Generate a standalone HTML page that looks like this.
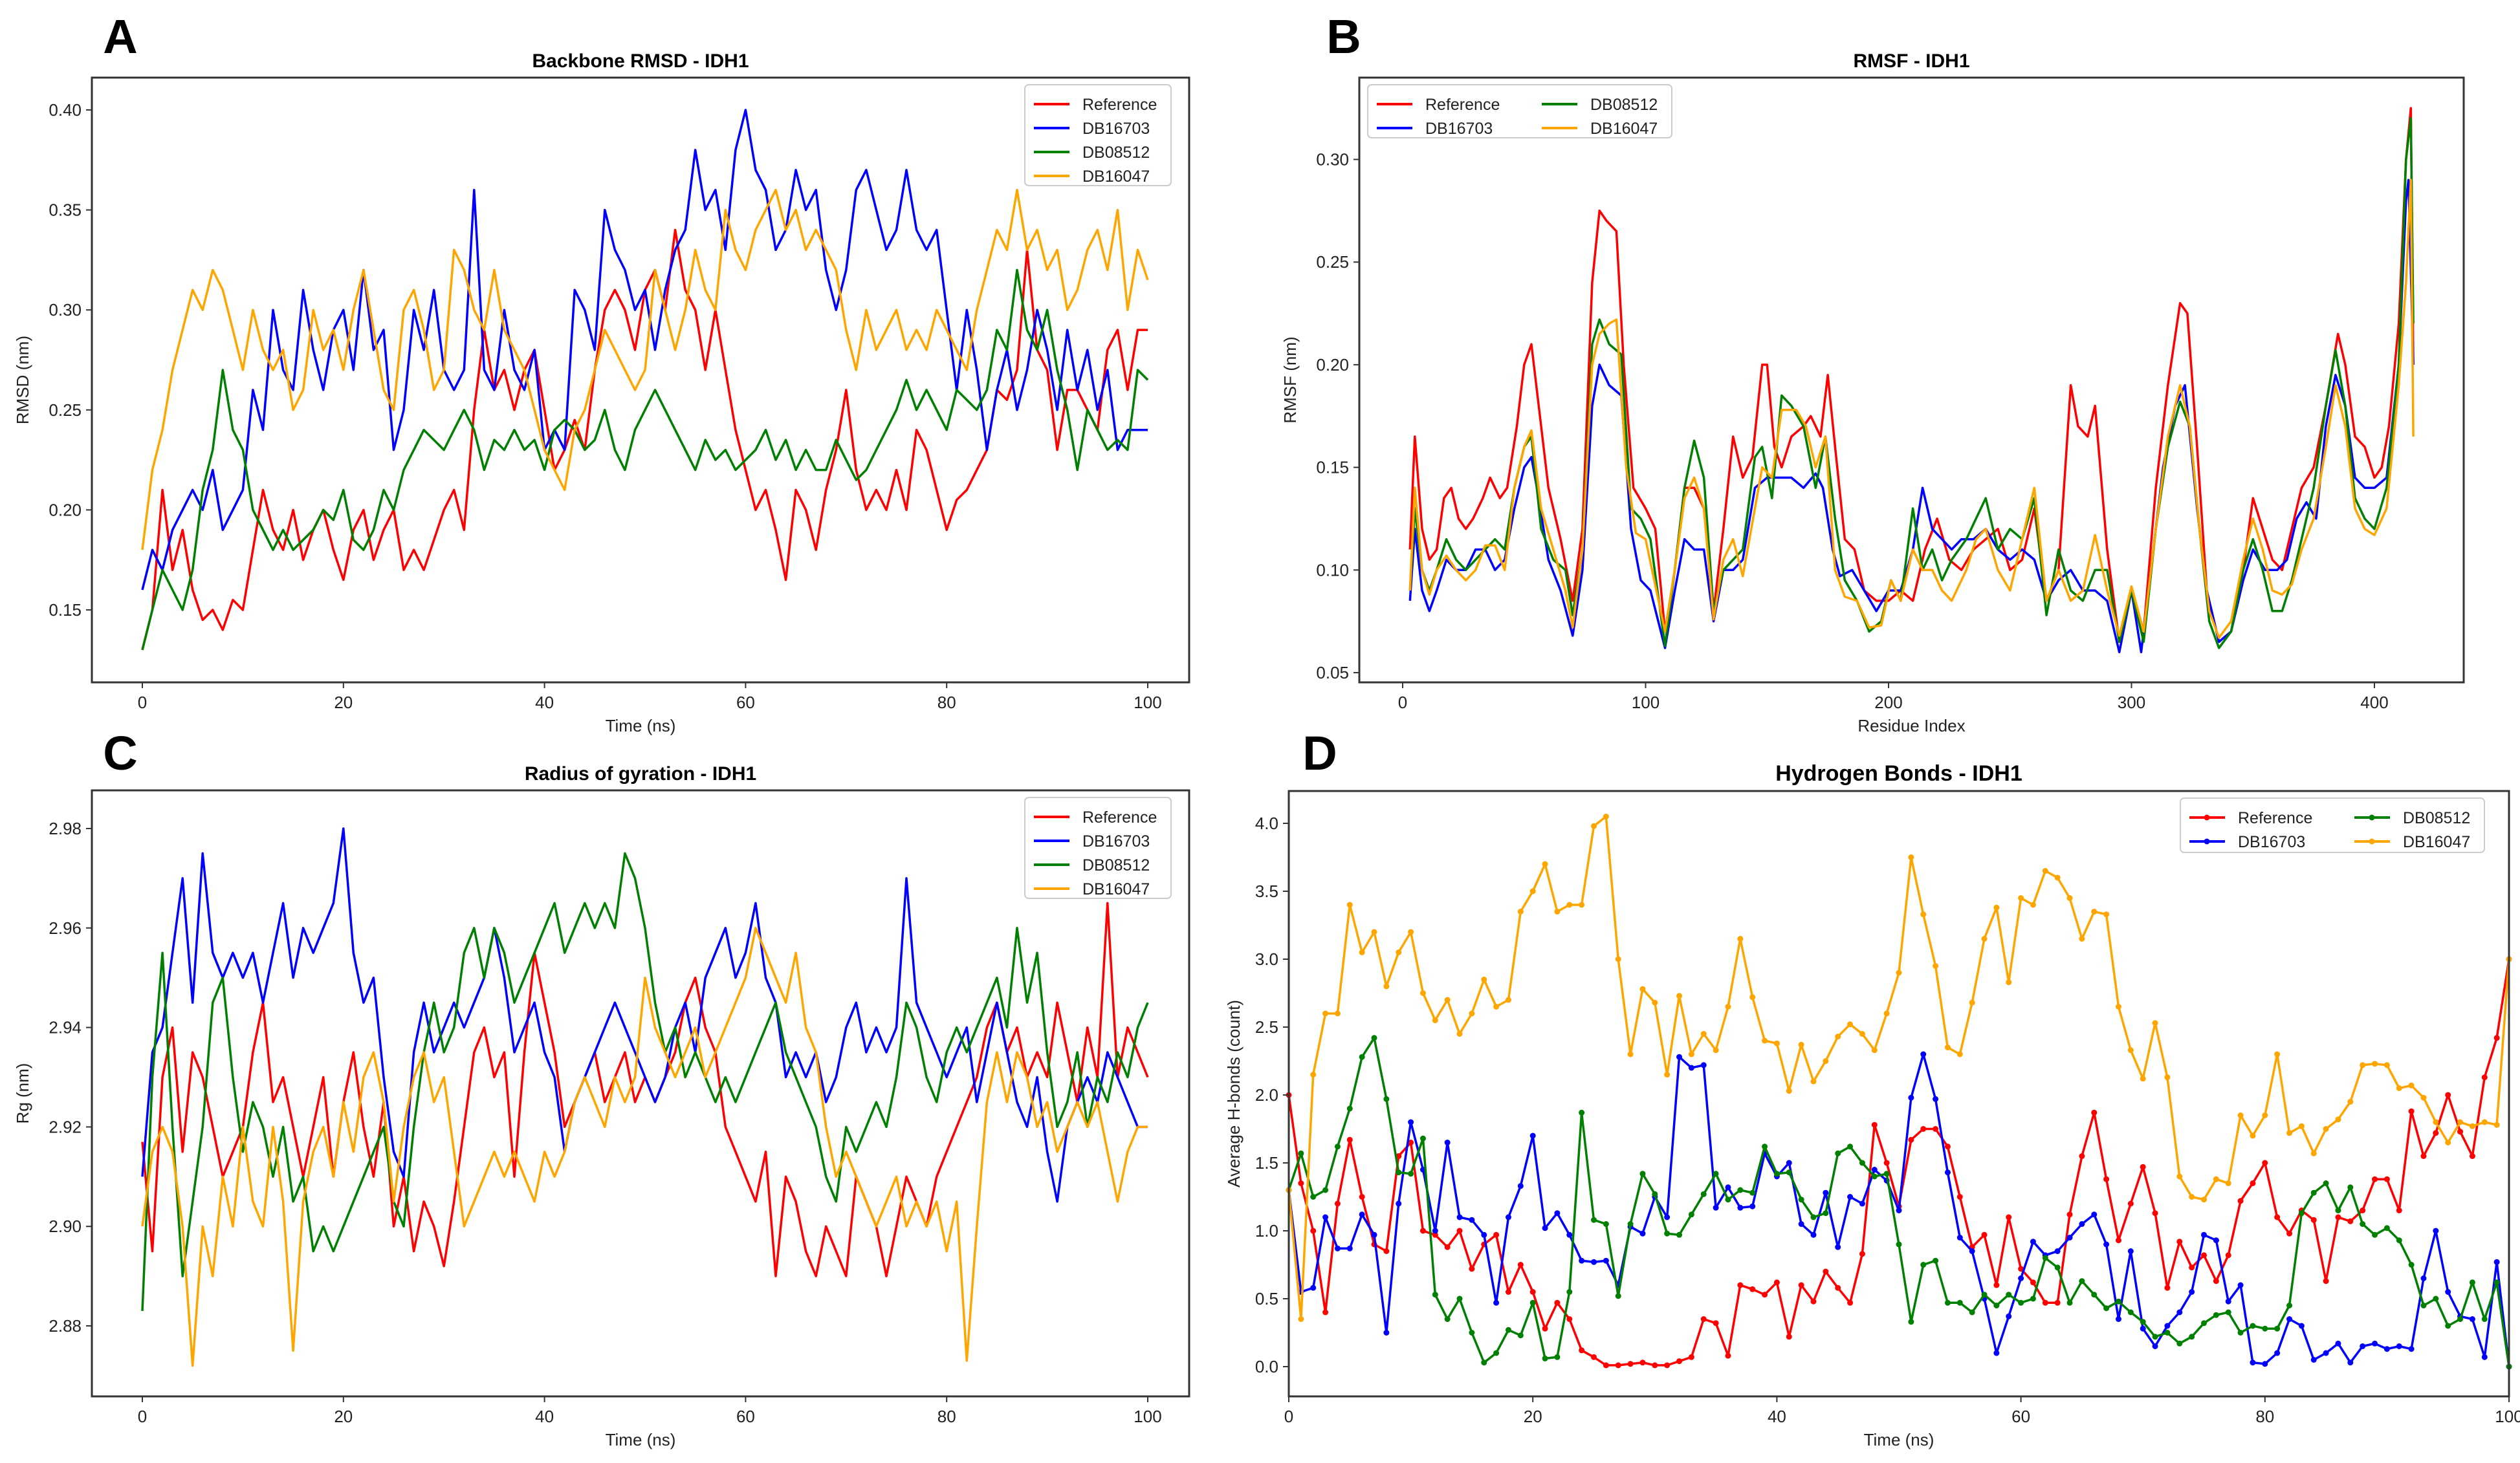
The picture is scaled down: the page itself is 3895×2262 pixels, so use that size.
<!DOCTYPE html>
<html><head><meta charset="utf-8">
<style>
html,body{margin:0;padding:0;background:#fff;}
svg{display:block;font-family:"Liberation Sans","DejaVu Sans",sans-serif;}
</style></head>
<body>
<svg id="fig" width="3895" height="2262" viewBox="0 0 3895 2262" xmlns="http://www.w3.org/2000/svg">
<rect width="3895" height="2262" fill="#fff"/>
</svg>
<script>
// ---------- Panel A: Backbone RMSD ----------
const rmsdTime = [];
for (let i = 0; i <= 100; i++) rmsdTime.push(i);
const rmsdRef = [0.13,0.15,0.21,0.17,0.19,0.16,0.145,0.15,0.14,0.155,0.15,0.18,0.21,0.19,0.18,0.2,0.175,0.19,0.2,0.18,0.165,0.19,0.2,0.175,0.19,0.2,0.17,0.18,0.17,0.185,0.2,0.21,0.19,0.25,0.29,0.26,0.27,0.25,0.27,0.28,0.25,0.22,0.23,0.245,0.23,0.27,0.3,0.31,0.3,0.28,0.31,0.32,0.3,0.34,0.31,0.3,0.27,0.3,0.27,0.24,0.22,0.2,0.21,0.19,0.165,0.21,0.2,0.18,0.21,0.23,0.26,0.22,0.2,0.21,0.2,0.22,0.2,0.24,0.23,0.21,0.19,0.205,0.21,0.22,0.23,0.26,0.255,0.27,0.33,0.28,0.27,0.23,0.26,0.26,0.25,0.24,0.28,0.29,0.26,0.29,0.29];
const rmsdDB16703 = [0.16,0.18,0.17,0.19,0.2,0.21,0.2,0.22,0.19,0.2,0.21,0.26,0.24,0.3,0.27,0.26,0.31,0.28,0.26,0.29,0.3,0.27,0.32,0.28,0.29,0.23,0.25,0.3,0.28,0.31,0.27,0.26,0.27,0.36,0.27,0.26,0.3,0.27,0.26,0.28,0.23,0.24,0.23,0.31,0.3,0.28,0.35,0.33,0.32,0.3,0.31,0.28,0.31,0.33,0.34,0.38,0.35,0.36,0.33,0.38,0.4,0.37,0.36,0.33,0.34,0.37,0.35,0.36,0.32,0.3,0.32,0.36,0.37,0.35,0.33,0.34,0.37,0.34,0.33,0.34,0.3,0.26,0.3,0.27,0.23,0.26,0.28,0.25,0.27,0.3,0.28,0.25,0.29,0.26,0.28,0.25,0.27,0.23,0.24,0.24,0.24];
const rmsdDB08512 = [0.13,0.15,0.17,0.16,0.15,0.17,0.21,0.23,0.27,0.24,0.23,0.2,0.19,0.18,0.19,0.18,0.185,0.19,0.2,0.195,0.21,0.185,0.18,0.19,0.21,0.2,0.22,0.23,0.24,0.235,0.23,0.24,0.25,0.24,0.22,0.235,0.23,0.24,0.23,0.235,0.22,0.24,0.245,0.24,0.23,0.235,0.25,0.23,0.22,0.24,0.25,0.26,0.25,0.24,0.23,0.22,0.235,0.225,0.23,0.22,0.225,0.23,0.24,0.225,0.235,0.22,0.23,0.22,0.22,0.235,0.225,0.215,0.22,0.23,0.24,0.25,0.265,0.25,0.26,0.25,0.24,0.26,0.255,0.25,0.26,0.29,0.28,0.32,0.29,0.28,0.3,0.27,0.25,0.22,0.25,0.24,0.23,0.235,0.23,0.27,0.265];
const rmsdDB16047 = [0.18,0.22,0.24,0.27,0.29,0.31,0.3,0.32,0.31,0.29,0.27,0.3,0.28,0.27,0.28,0.25,0.26,0.3,0.28,0.29,0.27,0.3,0.32,0.29,0.26,0.25,0.3,0.31,0.29,0.26,0.27,0.33,0.32,0.3,0.29,0.32,0.29,0.28,0.27,0.25,0.23,0.22,0.21,0.24,0.25,0.27,0.29,0.28,0.27,0.26,0.27,0.32,0.3,0.28,0.3,0.33,0.31,0.3,0.35,0.33,0.32,0.34,0.35,0.36,0.34,0.35,0.33,0.34,0.33,0.32,0.29,0.27,0.3,0.28,0.29,0.3,0.28,0.29,0.28,0.3,0.29,0.28,0.27,0.3,0.32,0.34,0.33,0.36,0.33,0.34,0.32,0.33,0.3,0.31,0.33,0.34,0.32,0.35,0.3,0.33,0.315];
const rmsdXTicks = [0,20,40,60,80,100];
const rmsdYTicks = [0.15,0.20,0.25,0.30,0.35,0.40];

// ---------- Panel B: RMSF ----------
const rmsfResRef = [3,5,8,11,14,17,20,23,26,29,33,36,40,43,47,50,53,56,60,65,70,74,78,81,84,88,91,95,100,104,108,112,116,120,124,128,132,136,140,144,148,150,153,156,160,165,168,172,175,178,182,186,190,195,200,205,210,215,220,225,230,235,240,245,250,255,260,265,270,275,278,282,285,290,295,300,305,310,315,320,323,327,331,336,341,346,350,354,358,362,366,370,375,380,385,388,392,396,400,403,406,410,413,415,416];
const rmsfRef = [0.11,0.165,0.12,0.105,0.11,0.135,0.14,0.125,0.12,0.125,0.135,0.145,0.135,0.14,0.17,0.2,0.21,0.18,0.14,0.115,0.085,0.12,0.24,0.275,0.27,0.265,0.2,0.14,0.13,0.12,0.07,0.1,0.14,0.14,0.13,0.08,0.12,0.165,0.145,0.155,0.2,0.2,0.16,0.15,0.165,0.17,0.175,0.165,0.195,0.16,0.115,0.11,0.09,0.085,0.085,0.09,0.085,0.11,0.125,0.105,0.1,0.11,0.115,0.12,0.1,0.105,0.13,0.085,0.1,0.19,0.17,0.165,0.18,0.11,0.065,0.09,0.07,0.14,0.19,0.23,0.225,0.16,0.09,0.065,0.07,0.1,0.135,0.12,0.105,0.1,0.12,0.14,0.15,0.18,0.215,0.2,0.165,0.16,0.145,0.15,0.17,0.22,0.3,0.325,0.2];
const rmsfResB = [3,5,8,11,14,18,22,26,30,34,38,42,46,50,53,56,60,65,70,74,78,81,85,90,94,98,102,108,112,116,120,124,128,132,136,140,145,150,155,160,165,170,173,177,180,185,190,195,200,205,210,214,218,222,226,230,235,240,245,250,255,260,265,270,275,280,285,290,295,300,304,308,313,318,322,327,331,336,341,346,350,355,360,364,368,372,376,380,384,388,392,396,400,405,410,413,414,416];
const rmsfDB16703 = [0.085,0.12,0.09,0.08,0.09,0.105,0.1,0.1,0.11,0.11,0.1,0.105,0.13,0.15,0.155,0.135,0.105,0.09,0.068,0.1,0.18,0.2,0.19,0.185,0.12,0.095,0.09,0.062,0.09,0.115,0.11,0.11,0.075,0.1,0.1,0.105,0.14,0.145,0.145,0.145,0.14,0.147,0.14,0.11,0.097,0.1,0.09,0.08,0.09,0.09,0.11,0.14,0.12,0.115,0.11,0.115,0.115,0.12,0.11,0.105,0.11,0.105,0.085,0.095,0.1,0.09,0.09,0.085,0.06,0.09,0.06,0.1,0.15,0.18,0.19,0.13,0.09,0.065,0.07,0.095,0.11,0.1,0.1,0.105,0.125,0.133,0.125,0.17,0.195,0.18,0.145,0.14,0.14,0.145,0.2,0.28,0.29,0.2];
const rmsfResG = [3,5,8,11,14,18,22,26,30,34,38,42,46,50,53,57,62,67,70,74,78,81,85,90,94,98,102,108,112,116,120,124,128,132,136,140,145,148,152,156,160,165,170,174,178,182,187,192,197,201,205,210,214,218,222,226,232,236,240,245,250,255,260,265,270,275,280,285,290,295,300,305,310,315,320,324,328,332,336,341,346,350,354,358,362,366,370,375,380,384,388,392,396,400,405,410,413,415,416];
const rmsfDB08512 = [0.09,0.13,0.1,0.09,0.1,0.115,0.105,0.1,0.105,0.11,0.115,0.11,0.14,0.16,0.165,0.12,0.105,0.1,0.078,0.11,0.21,0.222,0.21,0.205,0.13,0.125,0.115,0.063,0.1,0.14,0.163,0.145,0.08,0.1,0.105,0.11,0.155,0.16,0.135,0.185,0.18,0.17,0.14,0.165,0.125,0.095,0.085,0.07,0.075,0.095,0.085,0.13,0.1,0.11,0.095,0.105,0.115,0.125,0.135,0.11,0.12,0.115,0.135,0.078,0.11,0.09,0.085,0.1,0.1,0.065,0.09,0.065,0.12,0.16,0.182,0.17,0.12,0.075,0.062,0.07,0.1,0.115,0.1,0.08,0.08,0.095,0.115,0.14,0.18,0.207,0.18,0.135,0.125,0.12,0.14,0.2,0.3,0.32,0.22];
const rmsfResO = [3,5,8,11,14,18,22,26,30,34,38,42,46,50,53,57,62,67,70,74,78,81,85,88,92,96,100,108,112,116,120,124,128,132,136,140,145,148,152,156,162,166,170,174,178,182,187,192,197,201,205,210,214,218,222,226,232,236,240,245,250,255,260,265,270,275,280,285,290,295,300,305,310,315,320,324,328,332,336,341,346,350,354,358,362,366,370,375,380,384,388,392,396,400,405,410,413,415,416];
const rmsfDB16047 = [0.09,0.14,0.1,0.088,0.1,0.107,0.1,0.095,0.1,0.112,0.112,0.1,0.14,0.16,0.168,0.13,0.11,0.09,0.072,0.11,0.2,0.215,0.22,0.222,0.15,0.118,0.115,0.07,0.1,0.135,0.145,0.13,0.076,0.105,0.115,0.097,0.13,0.15,0.145,0.178,0.178,0.17,0.15,0.165,0.1,0.087,0.085,0.072,0.073,0.095,0.085,0.11,0.1,0.1,0.09,0.085,0.1,0.115,0.12,0.1,0.09,0.115,0.14,0.085,0.1,0.085,0.09,0.117,0.09,0.068,0.092,0.07,0.12,0.165,0.19,0.17,0.12,0.08,0.067,0.075,0.105,0.125,0.11,0.09,0.088,0.093,0.11,0.125,0.16,0.19,0.17,0.13,0.12,0.117,0.13,0.19,0.24,0.29,0.165];
const rmsfXTicks = [0,100,200,300,400];
const rmsfYTicks = [0.05,0.10,0.15,0.20,0.25,0.30];

// ---------- Panel C: Radius of gyration ----------
const rgTime = [];
for (let i = 0; i <= 100; i++) rgTime.push(i);
const rgRef = [2.917,2.895,2.93,2.94,2.915,2.935,2.93,2.92,2.91,2.915,2.92,2.935,2.945,2.925,2.93,2.92,2.91,2.92,2.93,2.91,2.925,2.935,2.92,2.91,2.925,2.9,2.91,2.895,2.905,2.9,2.892,2.905,2.92,2.935,2.94,2.93,2.935,2.91,2.935,2.955,2.945,2.935,2.92,2.925,2.93,2.935,2.925,2.93,2.935,2.925,2.93,2.925,2.93,2.935,2.945,2.95,2.94,2.935,2.92,2.915,2.91,2.905,2.915,2.89,2.91,2.905,2.895,2.89,2.9,2.895,2.89,2.91,2.905,2.9,2.89,2.9,2.91,2.905,2.9,2.91,2.915,2.92,2.925,2.93,2.94,2.945,2.935,2.94,2.93,2.935,2.93,2.945,2.935,2.925,2.94,2.93,2.965,2.93,2.94,2.935,2.93];
const rgDB16703 = [2.91,2.935,2.94,2.955,2.97,2.945,2.975,2.955,2.95,2.955,2.95,2.955,2.945,2.955,2.965,2.95,2.96,2.955,2.96,2.965,2.98,2.955,2.945,2.95,2.93,2.915,2.91,2.935,2.945,2.935,2.94,2.945,2.94,2.945,2.95,2.96,2.95,2.935,2.94,2.945,2.935,2.93,2.915,2.925,2.93,2.935,2.94,2.945,2.94,2.935,2.93,2.925,2.93,2.94,2.945,2.935,2.95,2.955,2.96,2.95,2.955,2.965,2.95,2.945,2.93,2.935,2.93,2.935,2.925,2.93,2.94,2.945,2.935,2.94,2.935,2.94,2.97,2.945,2.94,2.935,2.93,2.935,2.94,2.925,2.935,2.945,2.935,2.925,2.92,2.93,2.915,2.905,2.92,2.925,2.93,2.925,2.935,2.93,2.925,2.92,2.92];
const rgDB08512 = [2.883,2.93,2.955,2.92,2.89,2.905,2.92,2.945,2.95,2.93,2.915,2.925,2.92,2.91,2.92,2.905,2.91,2.895,2.9,2.895,2.9,2.905,2.91,2.915,2.92,2.905,2.9,2.92,2.935,2.945,2.935,2.94,2.955,2.96,2.95,2.96,2.955,2.945,2.95,2.955,2.96,2.965,2.955,2.96,2.965,2.96,2.965,2.96,2.975,2.97,2.96,2.945,2.935,2.94,2.93,2.935,2.93,2.925,2.93,2.925,2.93,2.935,2.94,2.945,2.935,2.93,2.925,2.92,2.91,2.905,2.92,2.915,2.92,2.925,2.92,2.93,2.945,2.94,2.93,2.925,2.935,2.94,2.935,2.94,2.945,2.95,2.94,2.96,2.945,2.955,2.935,2.92,2.925,2.935,2.92,2.93,2.925,2.935,2.93,2.94,2.945];
const rgDB16047 = [2.9,2.915,2.92,2.915,2.9,2.872,2.9,2.89,2.91,2.9,2.92,2.905,2.9,2.92,2.905,2.875,2.905,2.915,2.92,2.91,2.925,2.915,2.93,2.935,2.925,2.905,2.92,2.93,2.935,2.925,2.93,2.915,2.9,2.905,2.91,2.915,2.91,2.915,2.91,2.905,2.915,2.91,2.915,2.925,2.93,2.925,2.92,2.93,2.925,2.93,2.95,2.94,2.935,2.93,2.935,2.94,2.93,2.935,2.94,2.945,2.95,2.96,2.955,2.95,2.945,2.955,2.94,2.935,2.92,2.91,2.915,2.91,2.905,2.9,2.905,2.91,2.9,2.905,2.9,2.905,2.895,2.905,2.873,2.9,2.925,2.935,2.925,2.935,2.93,2.92,2.925,2.915,2.92,2.925,2.92,2.925,2.915,2.905,2.915,2.92,2.92];
const rgXTicks = [0,20,40,60,80,100];
const rgYTicks = [2.88,2.90,2.92,2.94,2.96,2.98];

// ---------- Panel D: Hydrogen bonds ----------
const hbTime = [];
for (let i = 0; i <= 100; i++) hbTime.push(i);
const hbRef = [2.0,1.35,1.0,0.4,1.2,1.67,1.25,0.9,0.85,1.55,1.65,1.0,0.97,0.88,1.0,0.72,0.9,0.97,0.55,0.75,0.55,0.28,0.47,0.35,0.12,0.07,0.01,0.01,0.02,0.03,0.01,0.01,0.04,0.07,0.35,0.32,0.08,0.6,0.57,0.53,0.62,0.22,0.6,0.48,0.7,0.58,0.47,0.83,1.78,1.5,1.18,1.67,1.75,1.75,1.62,1.25,0.88,0.97,0.6,1.1,0.72,0.62,0.47,0.47,1.12,1.55,1.87,1.38,0.93,1.2,1.47,1.13,0.58,0.92,0.73,0.82,0.63,0.82,1.22,1.35,1.5,1.1,0.98,1.15,1.08,0.63,1.1,1.07,1.15,1.38,1.38,1.15,1.88,1.55,1.72,2.0,1.73,1.55,2.13,2.42,3.0];
const hbDB16703 = [1.3,0.55,0.58,1.1,0.87,0.87,1.12,0.97,0.25,1.2,1.8,1.45,1.0,1.65,1.1,1.08,0.97,0.47,1.1,1.33,1.7,1.02,1.13,0.97,0.78,0.77,0.78,0.6,1.03,0.98,1.25,1.1,2.28,2.2,2.22,1.17,1.32,1.17,1.18,1.57,1.4,1.5,1.05,0.97,1.28,0.88,1.25,1.2,1.45,1.37,1.15,1.98,2.3,1.97,1.43,0.95,0.85,0.5,0.1,0.37,0.65,0.92,0.82,0.85,0.95,1.05,1.12,0.9,0.35,0.85,0.28,0.15,0.3,0.4,0.55,0.97,0.93,0.48,0.6,0.03,0.02,0.1,0.35,0.3,0.05,0.1,0.17,0.03,0.15,0.17,0.13,0.15,0.13,0.65,1.0,0.55,0.37,0.35,0.07,0.77,0.0];
const hbDB08512 = [1.3,1.57,1.25,1.3,1.62,1.9,2.28,2.42,1.97,1.43,1.42,1.68,0.53,0.35,0.5,0.25,0.03,0.1,0.27,0.23,0.47,0.06,0.07,0.55,1.87,1.08,1.05,0.52,1.05,1.42,1.27,0.98,0.97,1.12,1.27,1.42,1.23,1.3,1.28,1.62,1.42,1.43,1.23,1.1,1.13,1.57,1.62,1.5,1.4,1.42,0.9,0.33,0.75,0.78,0.47,0.47,0.4,0.53,0.45,0.53,0.47,0.5,0.8,0.73,0.47,0.63,0.53,0.43,0.48,0.4,0.33,0.22,0.25,0.17,0.22,0.32,0.38,0.4,0.25,0.3,0.28,0.28,0.45,1.13,1.28,1.35,1.15,1.32,1.05,0.97,1.02,0.93,0.75,0.45,0.5,0.3,0.35,0.62,0.35,0.62,0.0];
const hbDB16047 = [1.3,0.35,2.15,2.6,2.6,3.4,3.05,3.2,2.8,3.05,3.2,2.75,2.55,2.7,2.45,2.6,2.85,2.65,2.7,3.35,3.5,3.7,3.35,3.4,3.4,3.98,4.05,3.0,2.3,2.78,2.68,2.15,2.73,2.3,2.45,2.33,2.65,3.15,2.72,2.4,2.38,2.03,2.37,2.1,2.25,2.43,2.52,2.45,2.33,2.6,2.9,3.75,3.33,2.95,2.35,2.3,2.68,3.15,3.38,2.83,3.45,3.4,3.65,3.6,3.45,3.15,3.35,3.33,2.65,2.33,2.12,2.53,2.13,1.4,1.25,1.23,1.38,1.35,1.85,1.7,1.85,2.3,1.72,1.77,1.57,1.75,1.82,1.95,2.22,2.23,2.22,2.05,2.07,1.98,1.8,1.65,1.8,1.77,1.8,1.78,3.0];
const hbXTicks = [0,20,40,60,80,100];
const hbYTicks = [0.0,0.5,1.0,1.5,2.0,2.5,3.0,3.5,4.0];

const seriesNames = ["Reference","DB16703","DB08512","DB16047"];
const seriesColors = ["#ff0000","#0000ff","#008000","#ffa500"];

const NS = "http://www.w3.org/2000/svg";
const fig = document.getElementById("fig");
function mk(tag, attrs, parent) {
  const e = document.createElementNS(NS, tag);
  for (const k in attrs) e.setAttribute(k, attrs[k]);
  (parent || fig).appendChild(e);
  return e;
}

function panel(cfg) {
  const g = mk("g", {});
  
  
  const sx = v => cfg.px0 + (v - cfg.xv0) / (cfg.xv1 - cfg.xv0) * (cfg.px1 - cfg.px0);
  const sy = v => cfg.py0 + (v - cfg.yv0) / (cfg.yv1 - cfg.yv0) * (cfg.py1 - cfg.py0);
  const L = mk("text", {x: cfg.letterX, y: cfg.letterY, "font-size": 74, "font-weight": "bold", fill: "#000", "text-anchor": "middle"}, g);
  L.textContent = cfg.letter;
  
  
  const T = mk("text", {x: (cfg.fx0 + cfg.fx1) / 2, y: cfg.fy0 - 16, "font-size": cfg.titleSize || 30, "font-weight": "bold", fill: "#000", "text-anchor": "middle"}, g);
  T.textContent = cfg.title;
  
  
  const clip = "clip-" + cfg.letter;
  const cp = mk("clipPath", {id: clip}, g);
  mk("rect", {x: cfg.fx0, y: cfg.fy0, width: cfg.fx1 - cfg.fx0, height: cfg.fy1 - cfg.fy0}, cp);
  cfg.series.forEach((s, i) => {
    const pts = s.y.map((v, j) => sx(s.x[j]).toFixed(1) + "," + sy(v).toFixed(1)).join(" ");
    const pl = mk("polyline", {points: pts, fill: "none", stroke: seriesColors[i], "stroke-width": 3.5, "stroke-linejoin": "round", "clip-path": "url(#" + clip + ")"}, g);
    
    
    if (cfg.markers) {
      s.y.forEach((v, j) => {
        const c = mk("circle", {cx: sx(s.x[j]), cy: sy(v), r: 4.5, fill: seriesColors[i]}, g);
        
        
      });
    }
  });
  const F = mk("rect", {x: cfg.fx0, y: cfg.fy0, width: cfg.fx1 - cfg.fx0, height: cfg.fy1 - cfg.fy0, fill: "none", stroke: "#333", "stroke-width": 3}, g);
  
  
  cfg.xTicks.forEach(t => {
    const x = sx(t);
    const tk = mk("line", {x1: x, x2: x, y1: cfg.fy1, y2: cfg.fy1 + 9, stroke: "#333", "stroke-width": 2}, g);
    
    
    const tl = mk("text", {x: x, y: cfg.fy1 + 40, "font-size": 26, fill: "#222", "text-anchor": "middle"}, g);
    tl.textContent = String(t);
    
    
  });
  cfg.yTicks.forEach(t => {
    const y = sy(t);
    const tk = mk("line", {x1: cfg.fx0 - 9, x2: cfg.fx0, y1: y, y2: y, stroke: "#333", "stroke-width": 2}, g);
    
    
    const tl = mk("text", {x: cfg.fx0 - 16, y: y + 9, "font-size": 26, fill: "#222", "text-anchor": "end"}, g);
    tl.textContent = t.toFixed(cfg.yDec);
    
    
  });
  const xl = mk("text", {x: (cfg.fx0 + cfg.fx1) / 2, y: cfg.fy1 + 76, "font-size": 26, fill: "#222", "text-anchor": "middle"}, g);
  xl.textContent = cfg.xLabel;
  
  
  const yc = (cfg.fy0 + cfg.fy1) / 2;
  const yl = mk("text", {x: cfg.yLabelX, y: yc, "font-size": 26, fill: "#222", "text-anchor": "middle", transform: "rotate(-90 " + cfg.yLabelX + " " + yc + ")"}, g);
  yl.textContent = cfg.yLabel;
  
  
  const lg = cfg.legend;
  const colW = lg.colW || 0;
  const lb = mk("rect", {x: lg.x, y: lg.y, width: lg.w, height: lg.h, rx: 6, fill: "#fff", "fill-opacity": 0.85, stroke: "#ccc", "stroke-width": 2}, g);
  
  
  seriesNames.forEach((n, i) => {
    let cx, row;
    if (lg.cols === 2) { cx = i < 2 ? 0 : 1; row = i % 2; }
    else { cx = 0; row = i; }
    const bx = lg.x + 14 + cx * colW;
    const by = lg.y + 31 + row * 37;
    const ll = mk("line", {x1: bx, x2: bx + 55, y1: by - 1, y2: by - 1, stroke: seriesColors[i], "stroke-width": 4}, g);
    
    
    if (cfg.markers) {
      const c = mk("circle", {cx: bx + 27, cy: by - 1, r: 4.5, fill: seriesColors[i]}, g);
      
      
    }
    const lt = mk("text", {x: bx + 75, y: by + 8, "font-size": 25, fill: "#222"}, g);
    lt.textContent = n;
    
    
  });
}

panel({name: "panel-a-rmsd", letter: "A", letterX: 186, letterY: 82, title: "Backbone RMSD - IDH1",
  fx0: 142, fx1: 1838, fy0: 120, fy1: 1055, px0: 220, px1: 1774, xv0: 0, xv1: 100,
  py0: 170, py1: 943, yv0: 0.40, yv1: 0.15, xTicks: rmsdXTicks, yTicks: rmsdYTicks, yDec: 2,
  xLabel: "Time (ns)", yLabel: "RMSD (nm)", yLabelX: 44,
  legend: {x: 1584, y: 131, w: 226, h: 156, cols: 1},
  series: [{x: rmsdTime, y: rmsdRef}, {x: rmsdTime, y: rmsdDB16703}, {x: rmsdTime, y: rmsdDB08512}, {x: rmsdTime, y: rmsdDB16047}]});

panel({name: "panel-b-rmsf", letter: "B", letterX: 2077, letterY: 82, title: "RMSF - IDH1",
  fx0: 2101, fx1: 3808, fy0: 120, fy1: 1055, px0: 2168, px1: 3670, xv0: 0, xv1: 400,
  py0: 246.5, py1: 1040, yv0: 0.30, yv1: 0.05, xTicks: rmsfXTicks, yTicks: rmsfYTicks, yDec: 2,
  xLabel: "Residue Index", yLabel: "RMSF (nm)", yLabelX: 2003,
  legend: {x: 2114, y: 131, w: 470, h: 82, cols: 2, colW: 255},
  series: [{x: rmsfResRef, y: rmsfRef}, {x: rmsfResB, y: rmsfDB16703}, {x: rmsfResG, y: rmsfDB08512}, {x: rmsfResO, y: rmsfDB16047}]});

panel({name: "panel-c-rg", letter: "C", letterX: 186, letterY: 1190, title: "Radius of gyration - IDH1",
  fx0: 142, fx1: 1838, fy0: 1222, fy1: 2159, px0: 220, px1: 1774, xv0: 0, xv1: 100,
  py0: 1281, py1: 2050, yv0: 2.98, yv1: 2.88, xTicks: rgXTicks, yTicks: rgYTicks, yDec: 2,
  xLabel: "Time (ns)", yLabel: "Rg (nm)", yLabelX: 44,
  legend: {x: 1584, y: 1233, w: 226, h: 156, cols: 1},
  series: [{x: rgTime, y: rgRef}, {x: rgTime, y: rgDB16703}, {x: rgTime, y: rgDB08512}, {x: rgTime, y: rgDB16047}]});

panel({name: "panel-d-hbonds", letter: "D", letterX: 2040, letterY: 1190, title: "Hydrogen Bonds - IDH1", titleSize: 34,
  fx0: 1992, fx1: 3878, fy0: 1223, fy1: 2159, px0: 1992, px1: 3878, xv0: 0, xv1: 100,
  py0: 1273, py1: 2113, yv0: 4.0, yv1: 0.0, xTicks: hbXTicks, yTicks: hbYTicks, yDec: 1,
  xLabel: "Time (ns)", yLabel: "Average H-bonds (count)", yLabelX: 1916, markers: true,
  legend: {x: 3370, y: 1234, w: 470, h: 84, cols: 2, colW: 255},
  series: [{x: hbTime, y: hbRef}, {x: hbTime, y: hbDB16703}, {x: hbTime, y: hbDB08512}, {x: hbTime, y: hbDB16047}]});
</script>
</body></html>
